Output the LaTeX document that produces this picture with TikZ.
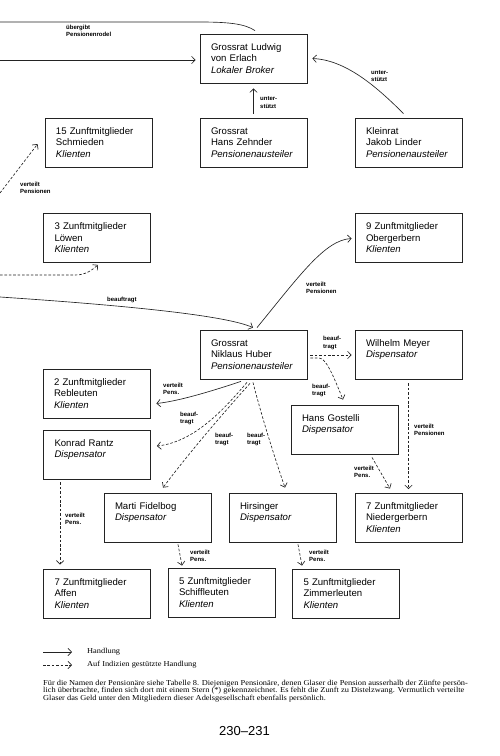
\documentclass[tikz,border=0pt]{standalone}
\usepackage{fontspec}
\newfontfamily\boxfont{Liberation Sans}
\newfontfamily\capfont[FakeStretch=1.1]{Liberation Serif}
\usetikzlibrary{arrows.meta}
\definecolor{ink}{RGB}{35,35,35}
\tikzset{
 kbox/.style={draw=ink, line width=0.8pt, minimum width=107pt, minimum height=49pt, text width=85pt, inner xsep=11pt, inner ysep=0pt, align=left, font=\boxfont\fontsize{9.6}{11.5}\selectfont, text=black},
 lbl/.style={inner sep=0pt, align=left, anchor=west, font=\boxfont\bfseries\fontsize{6}{7.2}\selectfont},
 plain/.style={draw=ink, line width=0.65pt},
 act/.style={plain, -{Straight Barb[length=3.6pt,width=7.4pt]}},
 ind/.style={act, dash pattern=on 2.6pt off 1.8pt},
 legtext/.style={inner sep=0pt, anchor=west, font=\capfont\fontsize{7.6}{9}\selectfont},
}
\begin{document}
\begin{tikzpicture}[x=1pt,y=-1pt]
\useasboundingbox (0,0) rectangle (500,756);
% boxes
\node[kbox] (erlach) at (253.5,58.5) {Grossrat Ludwig\\von Erlach\\\textit{Lokaler Broker}};
\node[kbox] (schmieden) at (98.5,142.5) {15 Zunftmitglieder\\Schmieden\\\textit{Klienten}};
\node[kbox] (zehnder) at (253.5,142.5) {Grossrat\\Hans Zehnder\\\textit{Pensionenausteiler}};
\node[kbox] (linder) at (408.5,142.5) {Kleinrat\\Jakob Linder\\\textit{Pensionenausteiler}};
\node[kbox] (loewen) at (97,238) {3 Zunftmitglieder\\Löwen\\\textit{Klienten}};
\node[kbox] (obergerbern) at (408.5,238) {9 Zunftmitglieder\\Obergerbern\\\textit{Klienten}};
\node[kbox] (huber) at (253.5,354.5) {Grossrat\\Niklaus Huber\\\textit{Pensionenausteiler}};
\node[kbox] (meyer) at (408.5,354.5) {Wilhelm Meyer\\\textit{Dispensator}\\\mbox{}};
\node[kbox] (rebleuten) at (96.5,393.5) {2 Zunftmitglieder\\Rebleuten\\\textit{Klienten}};
\node[kbox] (gostelli) at (344.5,429.5) {Hans Gostelli\\\textit{Dispensator}\\\mbox{}};
\node[kbox] (rantz) at (97,454.5) {Konrad Rantz\\\textit{Dispensator}\\\mbox{}};
\node[kbox] (fidelbog) at (157.5,517.5) {Marti Fidelbog\\\textit{Dispensator}\\\mbox{}};
\node[kbox] (hirsinger) at (282.5,517.5) {Hirsinger\\\textit{Dispensator}\\\mbox{}};
\node[kbox] (niedergerbern) at (408.5,517.5) {7 Zunftmitglieder\\Niedergerbern\\\textit{Klienten}};
\node[kbox] (affen) at (97,593.5) {7 Zunftmitglieder\\Affen\\\textit{Klienten}};
\node[kbox] (schiffleuten) at (221.5,592.5) {5 Zunftmitglieder\\Schiffleuten\\\textit{Klienten}};
\node[kbox] (zimmerleuten) at (346,593.5) {5 Zunftmitglieder\\Zimmerleuten\\\textit{Klienten}};
% off-page ends
\coordinate (offA) at (0,22);
\coordinate (offB) at (0,60);
\coordinate (offC) at (0,193);
\coordinate (offD) at (0,275);
\coordinate (offE) at (0,297);
% connectors
\draw[plain] ([shift={(1.5pt,3pt)}]erlach.north) .. controls (245,24) and (230,22) .. (200,22) -- (offA);
\draw[act] (offB) -- ([shift={(-4pt,-1.5pt)}]erlach.west);
\draw[act] ([yshift=4pt]zehnder.north) -- ([yshift=-5pt]erlach.south);
\draw[act] ([shift={(-5pt,4pt)}]linder.north) .. controls (375,85) and (345,60) .. ([xshift=5pt]erlach.east);
\draw[ind] (offC) -- ([shift={(-7pt,-1.5pt)}]schmieden.west);
\draw[ind] (offD) -- (75,275) .. controls (86,275) and (92,270) .. ([shift={(1pt,-2pt)}]loewen.south);
\draw[act] (offE) .. controls (120,305) and (225,315) .. ([shift={(-0.5pt,2pt)}]huber.north);
\draw[act] ([shift={(3.5pt,2pt)}]huber.north) .. controls (300,275) and (325,240) .. ([shift={(-3pt,-0.5pt)}]obergerbern.west);
\draw[ind] ([shift={(3pt,-0.5pt)}]huber.east) -- ([shift={(-3pt,-0.5pt)}]meyer.west);
\draw[ind] ([shift={(3pt,-3.5pt)}]huber.east) -- (319,358) .. controls (326,358) and (333,375) .. ([shift={(-1.5pt,5pt)}]gostelli.north);
\draw[act] ([shift={(-12.5pt,-2pt)}]huber.south) .. controls (215,390) and (180,401) .. ([shift={(6pt,-10pt)}]rebleuten.east);
\draw[ind] ([shift={(-6.5pt,-3pt)}]huber.south) .. controls (225,408) and (195,442) .. ([shift={(6pt,8.5pt)}]rantz.east);
\draw[ind] ([shift={(-3.5pt,-4pt)}]huber.south) .. controls (235,400) and (195,445) .. ([shift={(5.5pt,5pt)}]fidelbog.north);
\draw[ind] ([shift={(-0.5pt,-3pt)}]huber.south) .. controls (260,410) and (272,450) .. ([shift={(2.5pt,5pt)}]hirsinger.north);
\draw[ind] ([yshift=-4pt]meyer.south) -- ([yshift=3.5pt]niedergerbern.north);
\draw[ind] ([shift={(27.5pt,-3pt)}]gostelli.south) -- ([shift={(-18.5pt,4pt)}]niedergerbern.north);
\draw[ind] ([shift={(17pt,-3pt)}]rantz.south west) -- ([shift={(17pt,4pt)}]affen.north west);
\draw[ind] ([shift={(20.5pt,-2pt)}]fidelbog.south) -- ([shift={(-39.5pt,2pt)}]schiffleuten.north);
\draw[ind] ([shift={(15.5pt,-2pt)}]hirsinger.south) -- ([shift={(-44pt,3pt)}]zimmerleuten.north);
% connector labels
\node[lbl] (t1) at (66,31) {übergibt\\Pensionenrodel};
\node[lbl] (t2) at (260,102.5) {unter-\\stützt};
\node[lbl] (t3) at (371,76) {unter-\\stützt};
\node[lbl] (t4) at (20,188) {verteilt\\Pensionen};
\node[lbl] (t5) at (107,300) {beauftragt};
\node[lbl] (t6) at (306,287.5) {verteilt\\Pensionen};
\node[lbl] (t7) at (323,343) {beauf-\\tragt};
\node[lbl] (t8) at (312,390.5) {beauf-\\tragt};
\node[lbl] (t9) at (163,389) {verteilt\\Pens.};
\node[lbl] (t10) at (180,418.5) {beauf-\\tragt};
\node[lbl] (t11) at (215,439.5) {beauf-\\tragt};
\node[lbl] (t12) at (247,439.5) {beauf-\\tragt};
\node[lbl] (t13) at (414,429.5) {verteilt\\Pensionen};
\node[lbl] (t14) at (354,472) {verteilt\\Pens.};
\node[lbl] (t15) at (65,519) {verteilt\\Pens.};
\node[lbl] (t16) at (190,555.5) {verteilt\\Pens.};
\node[lbl] (t17) at (309,555.5) {verteilt\\Pens.};
% legend
\coordinate (lgA) at (43,652);
\node[legtext] (lgH) at (87,652) {Handlung};
\draw[act] (lgA) -- ([xshift=-15pt]lgH.west);
\coordinate (lgB) at (43,665);
\node[legtext] (lgI) at (87,665) {Auf Indizien gestützte Handlung};
\draw[ind] (lgB) -- ([xshift=-15pt]lgI.west);
% caption
\node[anchor=west, align=left, inner sep=0pt, font=\capfont\fontsize{7.6}{7.5}\selectfont] (cap) at (43,691) {Für die Namen der Pensionäre siehe Tabelle 8. Diejenigen Pensionäre, denen Glaser die Pension ausserhalb der Zünfte persön-\\lich überbrachte, finden sich dort mit einem Stern (*) gekennzeichnet. Es fehlt die Zunft zu Distelzwang. Vermutlich verteilte\\Glaser das Geld unter den Mitgliedern dieser Adelsgesellschaft ebenfalls persönlich.};
\node[font=\boxfont\fontsize{13}{15}\selectfont] (page) at (244.5,731) {230–231};
\end{tikzpicture}
\end{document}
